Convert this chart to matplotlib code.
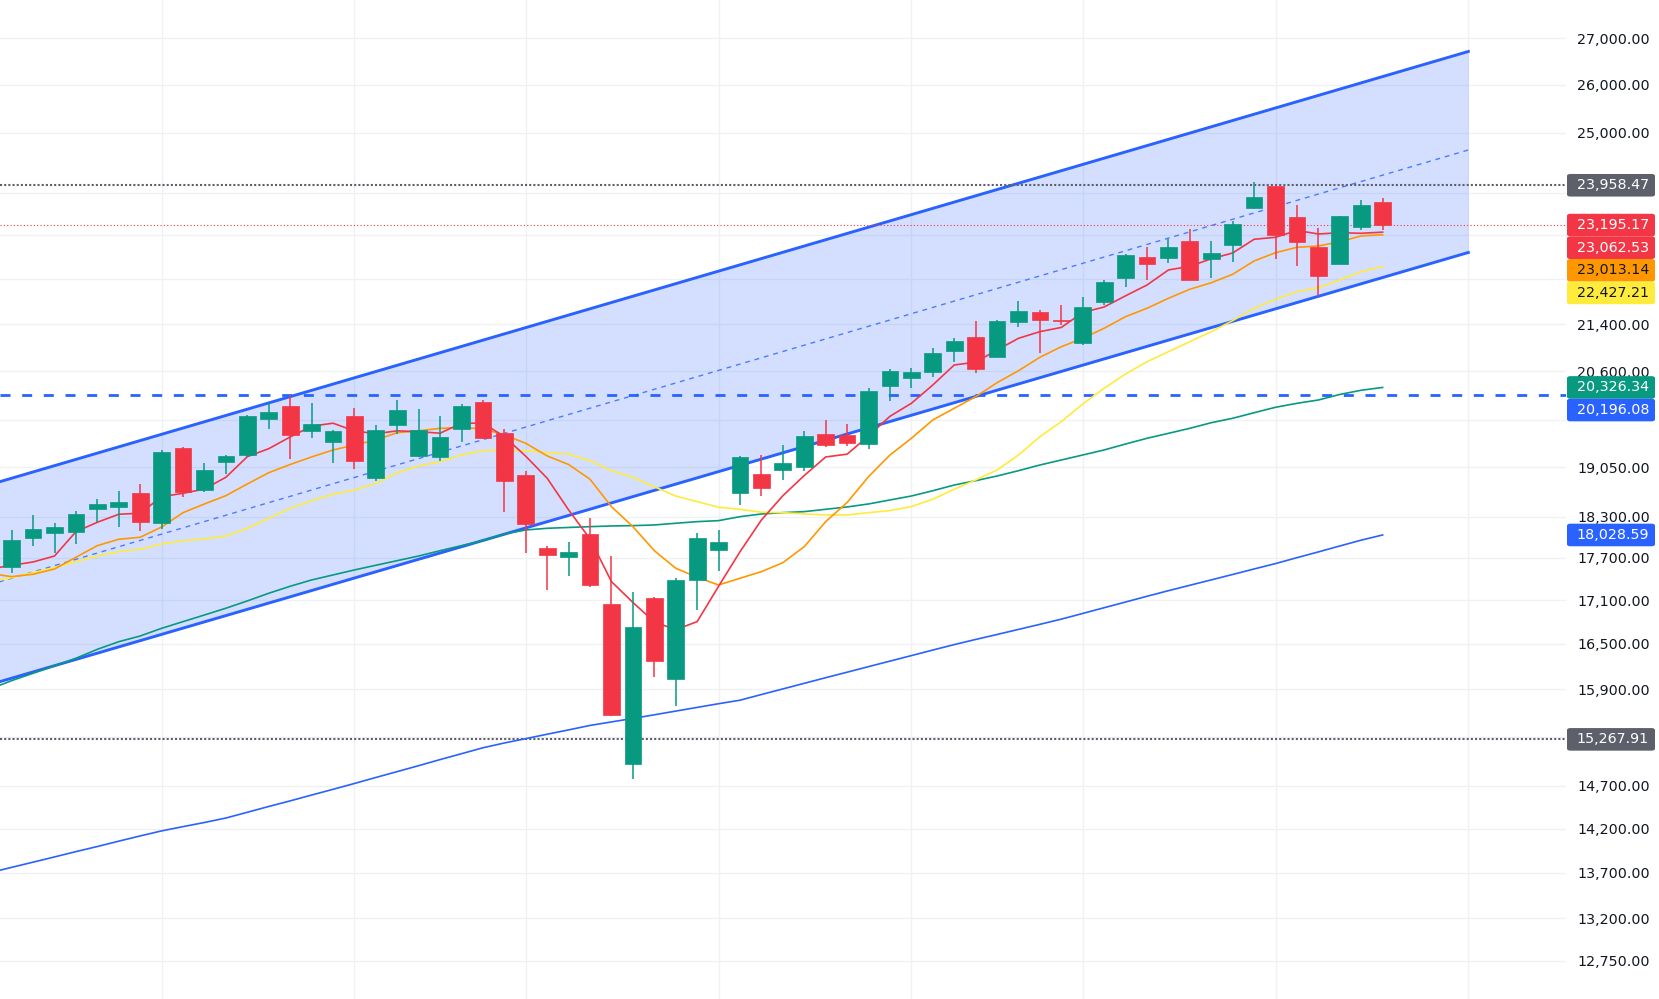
import numpy as np
import matplotlib.pyplot as plt
from matplotlib.patches import FancyBboxPatch
from matplotlib.ticker import FixedLocator, FuncFormatter, NullLocator, NullFormatter

UP = '#089981'
DOWN = '#f23645'
BLUE = '#2962ff'
GREY = '#5d606b'

# weekly candles, oldest first
opens = [17570, 17990, 18062, 18077, 18418, 18448, 18655, 18210, 19350, 18700,
         19131, 19240, 19812, 20021, 19620, 19445, 19860, 18884, 19716, 19225,
         19209, 19651, 20088, 19588, 18930, 17839, 17709, 18043, 17045, 14969,
         17129, 16041, 17385, 17814, 18659, 18945, 19012, 19058, 19572, 19556,
         19418, 20356, 20488, 20589, 20943, 21178, 20841, 21443, 21613, 21468,
         21080, 21795, 22224, 22601, 22588, 22897, 22570, 22829, 23526, 23945,
         23348, 22786, 22478, 23165, 23635]
highs = [18102, 18324, 18206, 18384, 18564, 18685, 18792, 19319, 19366, 19115,
         19240, 19876, 20066, 20202, 20071, 19630, 19990, 19716, 20120, 19973,
         19860, 20055, 20120, 19651, 18992, 17868, 17927, 18280, 17723, 17212,
         17139, 17405, 18058, 18102, 19225, 19240, 19397, 19620, 19796, 19732,
         20318, 20633, 20655, 20988, 21161, 21456, 21473, 21807, 21648, 21737,
         21878, 22182, 22656, 22791, 22934, 23122, 22897, 23272, 24023, 23958.47,
         23578, 23141, 23367, 23673, 23712]
lows = [17484, 17873, 17766, 17902, 18220, 18151, 18087, 18122, 18599, 18670,
        18945, 19209, 19651, 19178, 19508, 19120, 19022, 18838, 19572, 19209,
        19146, 19445, 19492, 18369, 17766, 17240, 17439, 17287, 15560, 14789,
        16067, 15693, 16966, 17513, 18478, 18614, 18858, 18996, 19371, 19387,
        19340, 20109, 20323, 20506, 20757, 20572, 20836, 21357, 20910, 21386,
        21046, 21742, 22062, 22187, 22497, 22182, 22224, 22515, 23507, 22570,
        22441, 21901, 22472, 23109, 23103]
closes = [17956, 18117, 18146, 18339, 18489, 18519, 18225, 19287, 18674, 19007,
          19225, 19860, 19925, 19556, 19732, 19620, 19146, 19635, 19957, 19635,
          19524, 20021, 19508, 18843, 18191, 17738, 17781, 17315, 15578, 16729,
          16277, 17381, 17985, 17927, 19209, 18735, 19115, 19540, 19402, 19434,
          20269, 20600, 20584, 20904, 21109, 20639, 21456, 21631, 21479, 21461,
          21701, 22146, 22638, 22479, 22786, 22187, 22675, 23216, 23731, 23010,
          22884, 22260, 23367, 23578, 23195.17]

# moving averages, first value is the week before the first candle
ma_red = [17537, 17590, 17637, 17723, 18077, 18216, 18335, 18350, 18599, 18650, 18715,
          18895, 19214, 19339, 19524, 19696, 19744, 19620, 19576, 19622, 19608,
          19584, 19744, 19744, 19531, 19220, 18879, 18399, 17970, 17357, 17066,
          16798, 16692, 16802, 17292, 17785, 18250, 18613, 18922, 19209, 19253,
          19540, 19855, 20066, 20367, 20701, 20748, 20955, 21155, 21270, 21343,
          21604, 21701, 21899, 22092, 22364, 22431, 22568, 22675, 22929, 22966,
          23094, 23028, 23052, 23041, 23062.53]
ma_orange = [17471, 17428, 17462, 17537, 17705, 17873, 17966, 17995, 18146, 18359, 18489,
             18614, 18792, 18965, 19092, 19209, 19319, 19397, 19476, 19592, 19622,
             19662, 19672, 19654, 19556, 19424, 19225, 19092, 18864, 18448, 18151,
             17800, 17547, 17419, 17310, 17405, 17499, 17627, 17858, 18225, 18511,
             18904, 19240, 19503, 19796, 19985, 20174, 20405, 20605, 20831, 21011,
             21155, 21329, 21531, 21678, 21855, 22016, 22133, 22286, 22528, 22680,
             22780, 22804, 22884, 22991, 23013.14]
ma_yellow = [17353, 17414, 17485, 17556, 17642, 17723, 17786, 17820, 17898, 17946, 17971,
             18014, 18127, 18275, 18424, 18538, 18635, 18700, 18802, 18965, 19069,
             19135, 19240, 19308, 19319, 19308, 19276, 19256, 19151, 18996, 18894,
             18750, 18609, 18524, 18440, 18409, 18365, 18359, 18339, 18324, 18324,
             18359, 18389, 18449, 18560, 18711, 18853, 19007, 19240, 19529, 19769,
             20055, 20313, 20550, 20756, 20926, 21097, 21270, 21461, 21678, 21837,
             21973, 22044, 22182, 22333, 22427.21]
ma_green = [15907, 16015, 16111, 16207, 16309, 16428, 16530, 16607, 16711, 16802, 16893,
            16986, 17087, 17194, 17292, 17381, 17452, 17523, 17590, 17656, 17723,
            17800, 17873, 17946, 18043, 18102, 18127, 18139, 18151, 18161, 18166,
            18176, 18201, 18225, 18240, 18299, 18339, 18359, 18374, 18409, 18444,
            18489, 18549, 18609, 18689, 18776, 18842, 18914, 18996, 19084, 19162,
            19240, 19319, 19413, 19503, 19582, 19662, 19752, 19823, 19913, 20001,
            20066, 20120, 20211, 20280, 20326.34]
ma_blue = [13700, 13759, 13817, 13876, 13936, 13994, 14055, 14115, 14173, 14222, 14270,
           14322, 14389, 14457, 14523, 14592, 14660, 14730, 14802, 14873, 14945,
           15019, 15091, 15164, 15223, 15277, 15332, 15386, 15442, 15486, 15530,
           15576, 15623, 15670, 15717, 15762, 15835, 15907, 15980, 16053, 16125,
           16198, 16271, 16344, 16418, 16491, 16560, 16627, 16696, 16765, 16836,
           16914, 16993, 17072, 17152, 17230, 17306, 17382, 17459, 17537, 17614,
           17699, 17782, 17868, 17953, 18028.59]

# regression channel anchors (bar index, price)
channel_x = [-1, 68]
channel_upper = [18784, 26712]
channel_mid = [17317, 24656]
channel_lower = [15965, 22684]

level_high = 23958.47
level_low = 15267.91
level_dash = 20196.08

price_ticks = [12750, 13200, 13700, 14200, 14700, 15300, 15900, 16500, 17100, 17700,
               18300, 19050, 19800, 20600, 21400, 22200, 23000, 23800, 25000, 26000, 27000]
month_ticks = [7, 16, 24, 33, 42, 50, 59, 68]

W, H = 1659, 999
fig = plt.figure(figsize=(W / 100, H / 100), dpi=100)
ax = fig.add_axes([0, 0, 1566 / W, 1])
ax.set_yscale('log')
ax.set_xlim(-0.546, 72.56)
ax.set_ylim(12362, 27854)

# channel
ax.fill_between(channel_x, channel_lower, channel_upper, color=BLUE, alpha=0.2, lw=0, zorder=1)
ax.plot(channel_x, channel_upper, color=BLUE, lw=2.1, zorder=2)
ax.plot(channel_x, channel_lower, color=BLUE, lw=2.1, zorder=2)
ax.plot(channel_x, channel_mid, color=BLUE, lw=1, ls=(0, (3.5, 3.5)), alpha=0.8, zorder=2)

# horizontal levels
ax.axhline(level_high, color=GREY, lw=1.5, ls=(0, (1, 1)), zorder=2)
ax.axhline(level_low, color=GREY, lw=1.5, ls=(0, (1, 1)), zorder=2)
ax.axhline(level_dash, color=BLUE, lw=2, ls=(0, (3.6, 4.2)), zorder=2)
ax.axhline(closes[-1], color=DOWN, lw=0.8, ls=(0, (1, 2)), zorder=2)

# moving averages
ma_x = np.arange(-1, len(closes))
ax.plot(ma_x, ma_blue, color=BLUE, lw=1.2, zorder=3)
ax.plot(ma_x, ma_green, color=UP, lw=1.2, zorder=3)
ax.plot(ma_x, ma_yellow, color='#ffeb3b', lw=1.2, zorder=3)
ax.plot(ma_x, ma_orange, color='#ff9800', lw=1.2, zorder=3)
ax.plot(ma_x, ma_red, color=DOWN, lw=1.2, zorder=3)

# candles
x = np.arange(len(opens))
o, h, l, c = map(np.array, (opens, highs, lows, closes))
colors = np.where(c >= o, UP, DOWN)
ax.vlines(x, l, h, colors=colors, lw=1.1, zorder=4)
ax.bar(x, np.abs(c - o), bottom=np.minimum(o, c), width=0.78,
       color=colors, edgecolor=colors, lw=0.5, zorder=5)

# price labels on the scale, stacked when they collide
labels = [
    (level_high, GREY, 'white'),
    (closes[-1], DOWN, 'white'),
    (ma_red[-1], DOWN, 'white'),
    (ma_orange[-1], '#ff9800', '#131722'),
    (ma_yellow[-1], '#ffeb3b', '#131722'),
    (ma_green[-1], UP, 'white'),
    (level_dash, BLUE, 'white'),
    (ma_blue[-1], BLUE, 'white'),
    (level_low, GREY, 'white'),
]
box_h = 22.6
boxes = []
prev = None
for value, fc, tc in sorted(labels, key=lambda t: -t[0]):
    y = ax.transData.transform((0, value))[1]
    if prev is not None and prev - y < box_h:
        y = prev - box_h
    prev = y
    boxes.append((y - box_h / 2, y + box_h / 2))
    fig.patches.append(FancyBboxPatch((1567 / W, (y - box_h / 2) / H), 88 / W, box_h / H,
                                      boxstyle='round,pad=0,rounding_size=0.002',
                                      transform=fig.transFigure, fc=fc, ec='none'))
    fig.text(1649 / W, y / H, f'{value:,.2f}', ha='right', va='center',
             color=tc, fontsize=10.3)

# scale labels hidden behind the price boxes
hidden = set()
for t in price_ticks:
    ty = ax.transData.transform((0, t))[1]
    if any(lo - 2 < ty < hi + 2 for lo, hi in boxes):
        hidden.add(t)

# axes styling
for s in ax.spines.values():
    s.set_visible(False)
ax.set_axisbelow(True)
ax.grid(True, color='#f0f1f3', lw=1)
ax.set_xticks(month_ticks)
ax.tick_params(axis='x', length=0, labelbottom=False)
ax.yaxis.tick_right()
ax.yaxis.set_major_locator(FixedLocator(price_ticks))
ax.yaxis.set_minor_locator(NullLocator())
ax.yaxis.set_minor_formatter(NullFormatter())
ax.yaxis.set_major_formatter(FuncFormatter(lambda v, _: '' if v in hidden else f'{v:,.2f}'))
ax.tick_params(axis='y', length=0, pad=8, labelsize=10.3, labelcolor='#131722')

fig.savefig('out.png', dpi=100, facecolor='white')
